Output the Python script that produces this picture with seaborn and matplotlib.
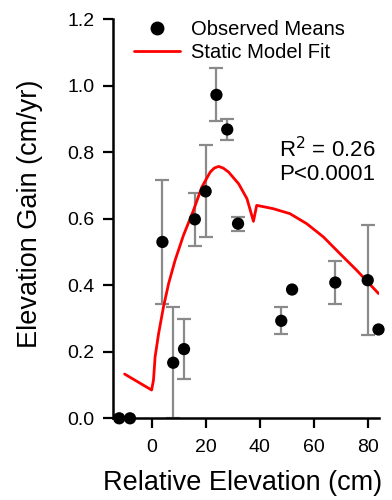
import numpy as np
import pandas as pd
import matplotlib
matplotlib.use("Agg")
import matplotlib.pyplot as plt
import seaborn as sns
from matplotlib.lines import Line2D

# Observed means
obs_x = [-12, -8, 4, 8, 12, 16, 20, 24, 28, 32, 48, 52, 68, 80, 84]
obs_y = [0.0, 0.0, 0.53, 0.167, 0.208, 0.598, 0.682, 0.972, 0.868, 0.585, 0.293, 0.387, 0.408, 0.415, 0.267]
obs_err = [np.nan, np.nan, 0.185, 0.167, 0.09, 0.08, 0.138, 0.08, 0.032, 0.021, 0.04, np.nan, 0.065, 0.165, np.nan]

# Static model fit curve
model_x = [-10, 0, 0.7, 1.3, 2.6, 4.4, 6.3, 8.7, 11.8, 15.5, 18.6, 21.7, 23.2, 24.8, 26.5, 28.5,
           32.2, 35.3, 37.7, 38.9, 45, 51.2, 57.4, 63.6, 69.7, 75.9, 84]
model_y = [0.133, 0.085, 0.115, 0.185, 0.255, 0.335, 0.405, 0.475, 0.55, 0.625, 0.695, 0.74, 0.752,
           0.757, 0.752, 0.74, 0.705, 0.66, 0.592, 0.64, 0.63, 0.615, 0.585, 0.545, 0.495, 0.445, 0.375]

x_ticks = [0, 20, 40, 60, 80]
y_ticks = [0.0, 0.2, 0.4, 0.6, 0.8, 1.0, 1.2]

sns.set_style("ticks")
plt.rcParams['font.family'] = ['Liberation Sans', 'DejaVu Sans']
plt.rcParams['text.color'] = 'black'
plt.rcParams['axes.labelcolor'] = 'black'
plt.rcParams['xtick.color'] = 'black'
plt.rcParams['ytick.color'] = 'black'

fig = plt.figure(figsize=(3.92, 5.0), dpi=100)
ax = fig.add_axes([0.2875, 0.1634, 0.6795, 0.7986])

obs = pd.DataFrame({"x": obs_x, "y": obs_y, "err": obs_err})
model = pd.DataFrame({"x": model_x, "y": model_y})

eb = obs.dropna(subset=["err"])
ax.errorbar(eb["x"], eb["y"], yerr=eb["err"], fmt="none", ecolor="#8a8a8a",
            elinewidth=1.6, capsize=5, capthick=1.6, zorder=2, clip_on=False)

sns.lineplot(data=model, x="x", y="y", ax=ax, color="#ff0000", linewidth=2.0,
             sort=False, estimator=None, zorder=3)

sns.scatterplot(data=obs, x="x", y="y", ax=ax, color="black", s=78, edgecolor="none",
                zorder=4, clip_on=False)

ax.set_xlim(-14.4, 84.2)
ax.set_ylim(0, 1.2)
ax.set_xticks(x_ticks)
ax.set_yticks(y_ticks)
ax.set_yticklabels([f"{v:.1f}" for v in y_ticks])
ax.tick_params(axis="both", labelsize=14, length=7, width=1.6, direction="out",
               color="black", labelcolor="black")
ax.tick_params(axis="y", pad=6)
ax.tick_params(axis="x", pad=8)
for s in ["left", "bottom"]:
    ax.spines[s].set_linewidth(1.8)
    ax.spines[s].set_color("black")
sns.despine(ax=ax)

ax.set_xlabel("Relative Elevation (cm)", fontsize=19.5)
ax.set_ylabel("Elevation Gain (cm/yr)", fontsize=19.5)
ax.xaxis.set_label_coords(0.487, -0.129)
ax.yaxis.set_label_coords(-0.262, 0.512)

handles = [Line2D([], [], marker="o", color="black", linestyle="none", markersize=9),
           Line2D([], [], color="#ff0000", linewidth=2.0)]
ax.legend(handles, ["Observed Means", "Static Model Fit"], loc="upper left",
          bbox_to_anchor=(0.05, 1.017), frameon=False, fontsize=14.5, handlelength=2.3,
          handletextpad=0.55, labelspacing=0.2, borderaxespad=0)

ax.text(0.625, 0.645, "R$^2$ = 0.26\nP<0.0001", transform=ax.transAxes, fontsize=16,
        ha="left", va="center", linespacing=1.1)

fig.savefig("out.png", dpi=100)
